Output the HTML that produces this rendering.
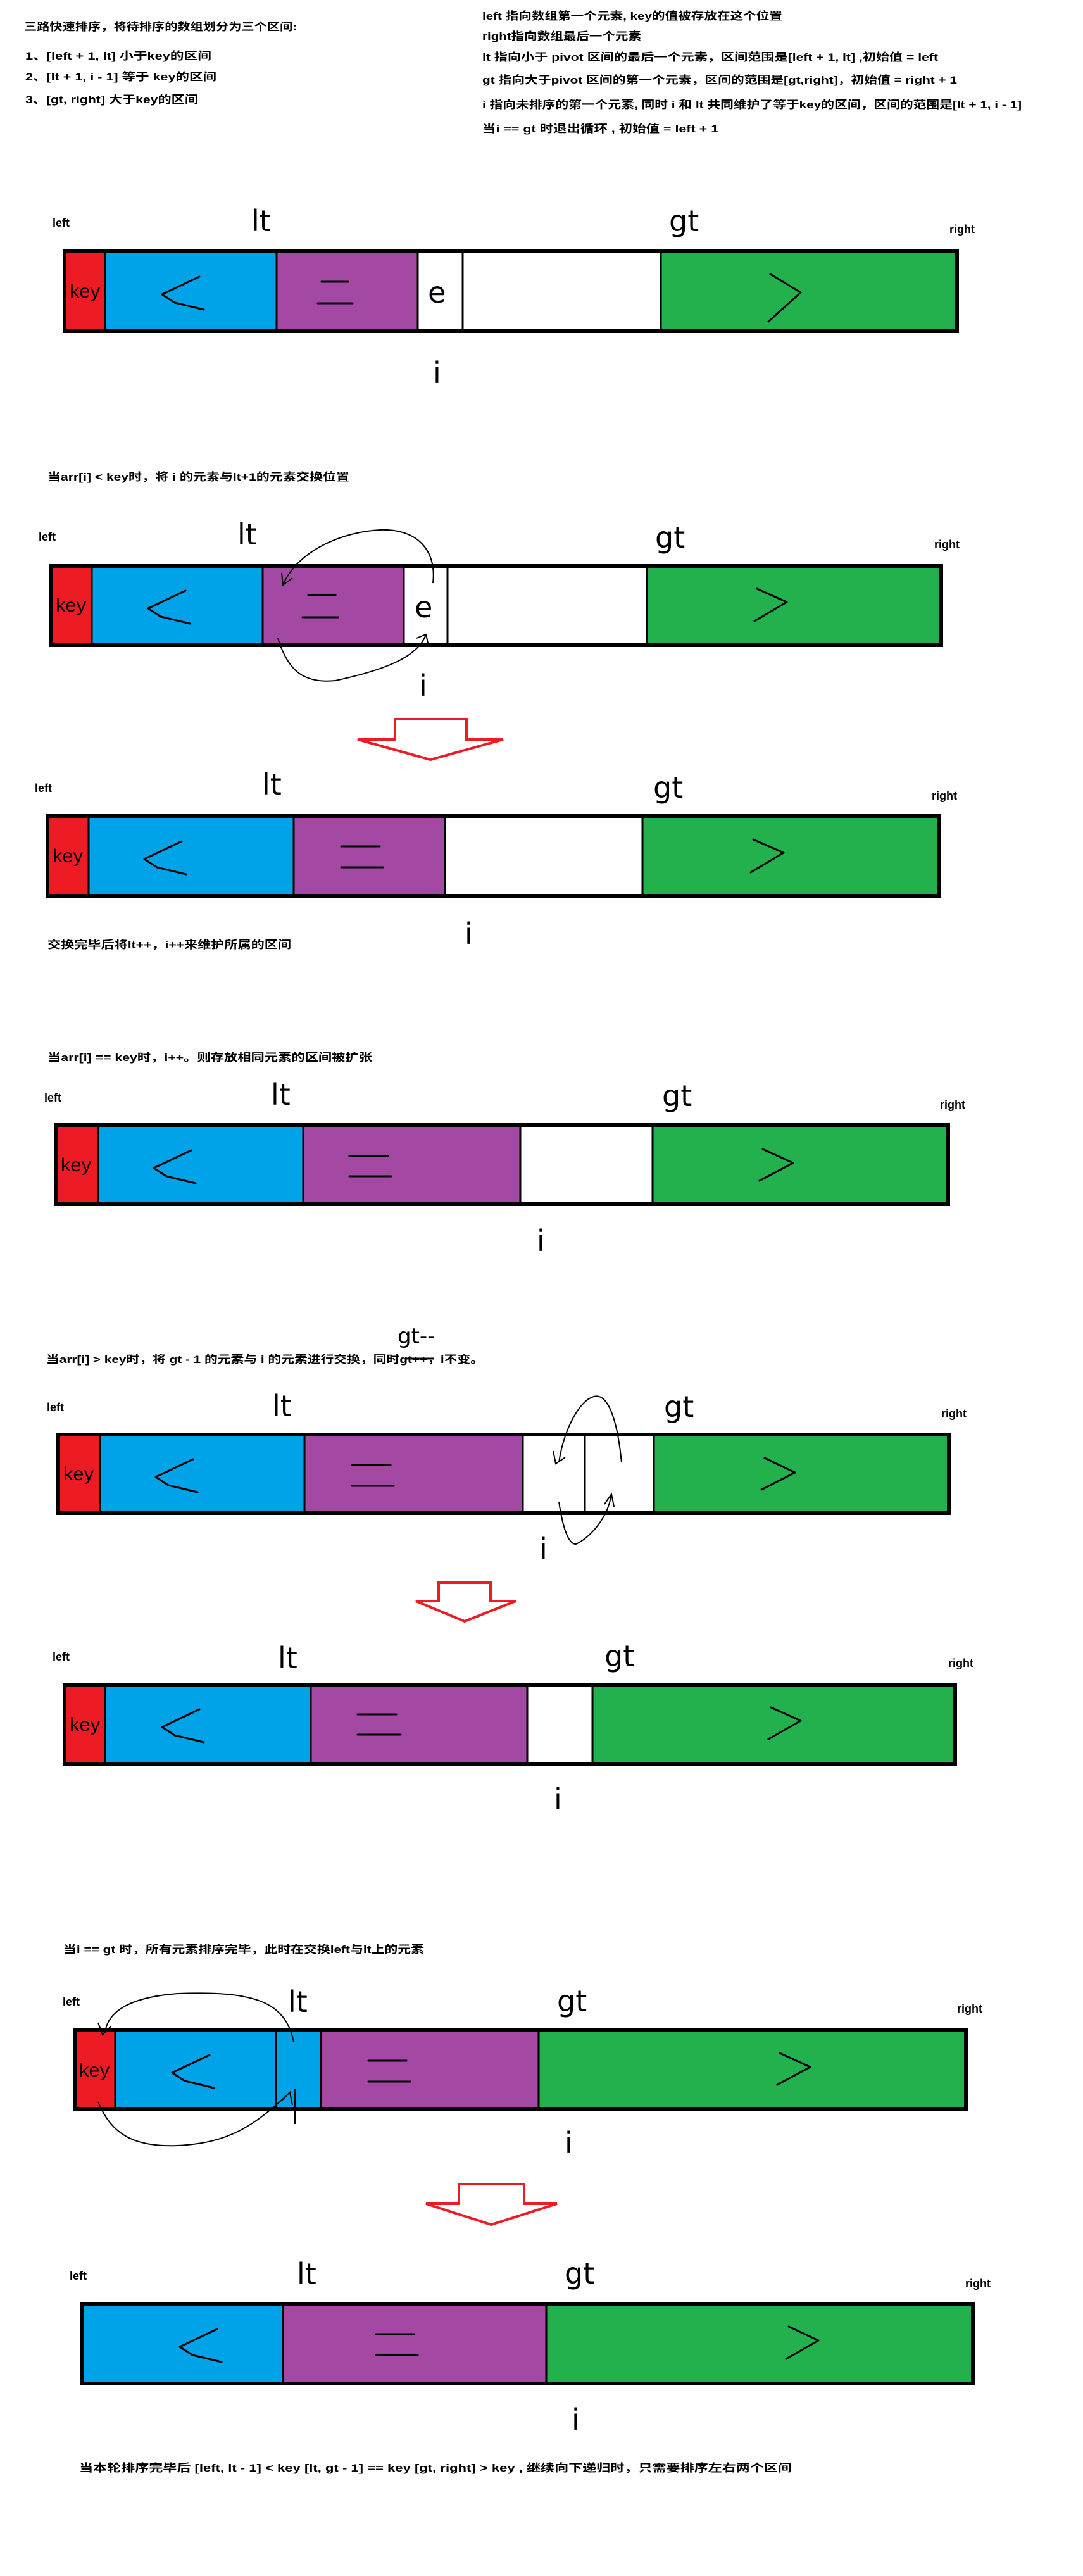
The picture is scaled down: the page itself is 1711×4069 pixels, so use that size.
<!DOCTYPE html>
<html><head><meta charset="utf-8"><style>
html,body{margin:0;padding:0;background:#fff;}
svg{display:block}
.t{font-family:"Liberation Sans","Noto Sans CJK SC",sans-serif;font-size:17px;font-weight:bold;fill:#000}
.lb{font-family:"Liberation Sans",sans-serif;font-size:18px;font-weight:bold;fill:#000}
.hw{font-family:"DejaVu Sans","Liberation Sans",sans-serif;font-size:46px;fill:#000;font-weight:normal}
.k{font-family:"Liberation Sans",sans-serif;font-size:30px;fill:#000}
.o{fill:none;stroke:#000;stroke-width:6}
.d{stroke:#000;stroke-width:3}
.s{fill:none;stroke:#000;stroke-width:3;stroke-linecap:round;stroke-linejoin:round}
.c{fill:none;stroke:#000;stroke-width:2}
.ar{fill:#fff;stroke:#ed1c24;stroke-width:4}
</style></head><body>
<svg width="1711" height="4069" viewBox="0 0 1711 4069" xmlns="http://www.w3.org/2000/svg">
<!-- header texts -->
<text class="t" x="38" y="48" textLength="431" lengthAdjust="spacingAndGlyphs">三路快速排序，将待排序的数组划分为三个区间:</text>
<text class="t" x="40" y="94" textLength="294" lengthAdjust="spacingAndGlyphs">1、[left + 1, lt] 小于key的区间</text>
<text class="t" x="40" y="127" textLength="302" lengthAdjust="spacingAndGlyphs">2、[lt + 1, i - 1] 等于 key的区间</text>
<text class="t" x="40" y="163" textLength="273" lengthAdjust="spacingAndGlyphs">3、[gt, right] 大于key的区间</text>
<text class="t" x="762" y="31" textLength="474" lengthAdjust="spacingAndGlyphs">left 指向数组第一个元素, key的值被存放在这个位置</text>
<text class="t" x="762" y="63" textLength="251" lengthAdjust="spacingAndGlyphs">right指向数组最后一个元素</text>
<text class="t" x="762" y="96" textLength="720" lengthAdjust="spacingAndGlyphs">lt 指向小于 pivot 区间的最后一个元素，区间范围是[left + 1, lt] ,初始值 = left</text>
<text class="t" x="762" y="132" textLength="750" lengthAdjust="spacingAndGlyphs">gt 指向大于pivot 区间的第一个元素，区间的范围是[gt,right]，初始值 = right + 1</text>
<text class="t" x="762" y="171" textLength="852" lengthAdjust="spacingAndGlyphs">i 指向未排序的第一个元素, 同时 i 和 lt 共同维护了等于key的区间，区间的范围是[lt + 1, i - 1]</text>
<text class="t" x="762" y="209" textLength="373" lengthAdjust="spacingAndGlyphs">当i == gt 时退出循环 , 初始值 = left + 1</text>

<!-- D1 -->
<rect x="102" y="396" width="64" height="127" fill="#ed1c24"/>
<rect x="166" y="396" width="271" height="127" fill="#00a2e8"/>
<rect x="437" y="396" width="223" height="127" fill="#a349a4"/>
<rect x="1044" y="396" width="468" height="127" fill="#22b14c"/>
<rect class="o" x="102" y="396" width="1410" height="127"/>
<line class="d" x1="166" y1="396" x2="166" y2="523"/><line class="d" x1="437" y1="396" x2="437" y2="523"/><line class="d" x1="660" y1="396" x2="660" y2="523"/><line class="d" x1="731" y1="396" x2="731" y2="523"/><line class="d" x1="1044" y1="396" x2="1044" y2="523"/>
<text class="k" x="110" y="470" textLength="48" lengthAdjust="spacingAndGlyphs">key</text>
<polyline class="s" points="315,437 256,465 276,478 322,489"/>
<line class="s" x1="508" y1="445" x2="550" y2="445"/><line class="s" x1="502" y1="479" x2="557" y2="479"/>
<text class="hw" x="676" y="478">e</text>
<polyline class="s" points="1217,433 1265,462 1214,508"/>
<text class="lb" x="83" y="358">left</text><text class="hw" x="397" y="365">lt</text><text class="hw" x="1057" y="365">gt</text><text class="lb" x="1500" y="368">right</text><text class="hw" x="684" y="605">i</text>

<!-- D2 -->
<text class="t" x="75" y="759" textLength="477" lengthAdjust="spacingAndGlyphs">当arr[i] &lt; key时，将 i 的元素与lt+1的元素交换位置</text>
<rect x="80" y="894" width="65" height="125" fill="#ed1c24"/>
<rect x="145" y="894" width="270" height="125" fill="#00a2e8"/>
<rect x="415" y="894" width="223" height="125" fill="#a349a4"/>
<rect x="1022" y="894" width="465" height="125" fill="#22b14c"/>
<rect class="o" x="80" y="894" width="1407" height="125"/>
<line class="d" x1="145" y1="894" x2="145" y2="1019"/><line class="d" x1="415" y1="894" x2="415" y2="1019"/><line class="d" x1="638" y1="894" x2="638" y2="1019"/><line class="d" x1="707" y1="894" x2="707" y2="1019"/><line class="d" x1="1022" y1="894" x2="1022" y2="1019"/>
<text class="k" x="88" y="966" textLength="48" lengthAdjust="spacingAndGlyphs">key</text>
<polyline class="s" points="293,933 234,961 254,974 300,985"/>
<line class="s" x1="487" y1="940" x2="530" y2="940"/><line class="s" x1="478" y1="975" x2="534" y2="975"/>
<text class="hw" x="655" y="975">e</text>
<polyline class="s" points="1196,930 1243,951 1192,981"/>
<path class="c" d="M684,921 C690,870 660,835 601,837 C540,840 470,870 447,924"/><path class="c" d="M445,905 L447,924 L462,913"/>
<path class="c" d="M439,1008 C455,1060 480,1080 530,1075 C600,1060 660,1040 673,1002"/><path class="c" d="M658,1008 L673,1002 L677,1020"/>
<text class="lb" x="61" y="854">left</text><text class="hw" x="375" y="860">lt</text><text class="hw" x="1035" y="865">gt</text><text class="lb" x="1476" y="866">right</text><text class="hw" x="662" y="1099">i</text>
<polygon class="ar" points="624,1136 737,1136 737,1168 795,1168 680,1200 565,1168 624,1168"/>

<!-- D3 -->
<rect x="75" y="1289" width="65" height="126" fill="#ed1c24"/>
<rect x="140" y="1289" width="324" height="126" fill="#00a2e8"/>
<rect x="464" y="1289" width="239" height="126" fill="#a349a4"/>
<rect x="1015" y="1289" width="469" height="126" fill="#22b14c"/>
<rect class="o" x="75" y="1289" width="1409" height="126"/>
<line class="d" x1="140" y1="1289" x2="140" y2="1415"/><line class="d" x1="464" y1="1289" x2="464" y2="1415"/><line class="d" x1="703" y1="1289" x2="703" y2="1415"/><line class="d" x1="1015" y1="1289" x2="1015" y2="1415"/>
<text class="k" x="83" y="1362" textLength="48" lengthAdjust="spacingAndGlyphs">key</text>
<polyline class="s" points="287,1329 228,1357 248,1370 294,1381"/>
<line class="s" x1="539" y1="1337" x2="600" y2="1337"/><line class="s" x1="539" y1="1370" x2="605" y2="1370"/>
<polyline class="s" points="1190,1326 1238,1347 1186,1378"/>
<text class="lb" x="55" y="1251">left</text><text class="hw" x="414" y="1255">lt</text><text class="hw" x="1032" y="1260">gt</text><text class="lb" x="1472" y="1263">right</text><text class="hw" x="734" y="1491">i</text>
<text class="t" x="75" y="1498" textLength="385" lengthAdjust="spacingAndGlyphs">交换完毕后将lt++，i++来维护所属的区间</text>

<!-- D4 -->
<text class="t" x="75" y="1676" textLength="513" lengthAdjust="spacingAndGlyphs">当arr[i] == key时，i++。则存放相同元素的区间被扩张</text>
<rect x="88" y="1777" width="67" height="125" fill="#ed1c24"/>
<rect x="155" y="1777" width="324" height="125" fill="#00a2e8"/>
<rect x="479" y="1777" width="343" height="125" fill="#a349a4"/>
<rect x="1031" y="1777" width="467" height="125" fill="#22b14c"/>
<rect class="o" x="88" y="1777" width="1410" height="125"/>
<line class="d" x1="155" y1="1777" x2="155" y2="1902"/><line class="d" x1="479" y1="1777" x2="479" y2="1902"/><line class="d" x1="822" y1="1777" x2="822" y2="1902"/><line class="d" x1="1031" y1="1777" x2="1031" y2="1902"/>
<text class="k" x="96" y="1850" textLength="48" lengthAdjust="spacingAndGlyphs">key</text>
<polyline class="s" points="302,1817 243,1845 263,1858 309,1869"/>
<line class="s" x1="552" y1="1826" x2="613" y2="1826"/><line class="s" x1="552" y1="1858" x2="618" y2="1858"/>
<polyline class="s" points="1205,1815 1253,1837 1200,1865"/>
<text class="lb" x="70" y="1740">left</text><text class="hw" x="428" y="1745">lt</text><text class="hw" x="1046" y="1747">gt</text><text class="lb" x="1485" y="1751">right</text><text class="hw" x="848" y="1976">i</text>

<!-- D5 -->
<text class="hw" x="628" y="2122" style="font-size:34px">gt--</text>
<text class="t" x="73" y="2153" textLength="691" lengthAdjust="spacingAndGlyphs">当arr[i] &gt; key时，将 gt - 1 的元素与 i 的元素进行交换，同时gt++，i不变。</text>
<line x1="640" y1="2146" x2="686" y2="2146" stroke="#000" stroke-width="3"/>
<rect x="92" y="2266" width="66" height="124" fill="#ed1c24"/>
<rect x="158" y="2266" width="323" height="124" fill="#00a2e8"/>
<rect x="481" y="2266" width="345" height="124" fill="#a349a4"/>
<rect x="1033" y="2266" width="466" height="124" fill="#22b14c"/>
<rect class="o" x="92" y="2266" width="1407" height="124"/>
<line class="d" x1="158" y1="2266" x2="158" y2="2390"/><line class="d" x1="481" y1="2266" x2="481" y2="2390"/><line class="d" x1="826" y1="2266" x2="826" y2="2390"/><line class="d" x1="924" y1="2266" x2="924" y2="2390"/><line class="d" x1="1033" y1="2266" x2="1033" y2="2390"/>
<text class="k" x="100" y="2338" textLength="48" lengthAdjust="spacingAndGlyphs">key</text>
<polyline class="s" points="305,2305 246,2333 266,2346 312,2357"/>
<line class="s" x1="556" y1="2314" x2="617" y2="2314"/><line class="s" x1="556" y1="2347" x2="622" y2="2347"/>
<polyline class="s" points="1208,2303 1256,2326 1203,2353"/>
<path class="c" d="M982,2310 C975,2240 960,2200 938,2206 C915,2212 890,2260 883,2310"/><path class="c" d="M874,2292 L878,2312 L893,2302"/>
<path class="c" d="M883,2372 C890,2420 900,2440 910,2439 C930,2430 960,2400 966,2360"/><path class="c" d="M955,2376 L966,2360 L970,2380"/>
<text class="lb" x="74" y="2229">left</text><text class="hw" x="430" y="2237">lt</text><text class="hw" x="1049" y="2238">gt</text><text class="lb" x="1487" y="2239">right</text><text class="hw" x="852" y="2463">i</text>
<polygon class="ar" points="693,2500 775,2500 775,2529 815,2529 734,2561 657,2529 693,2529"/>

<!-- D6 -->
<rect x="102" y="2661" width="64" height="125" fill="#ed1c24"/>
<rect x="166" y="2661" width="325" height="125" fill="#00a2e8"/>
<rect x="491" y="2661" width="342" height="125" fill="#a349a4"/>
<rect x="936" y="2661" width="573" height="125" fill="#22b14c"/>
<rect class="o" x="102" y="2661" width="1407" height="125"/>
<line class="d" x1="166" y1="2661" x2="166" y2="2786"/><line class="d" x1="491" y1="2661" x2="491" y2="2786"/><line class="d" x1="833" y1="2661" x2="833" y2="2786"/><line class="d" x1="936" y1="2661" x2="936" y2="2786"/>
<text class="k" x="110" y="2734" textLength="48" lengthAdjust="spacingAndGlyphs">key</text>
<polyline class="s" points="315,2700 256,2728 276,2741 322,2752"/>
<line class="s" x1="565" y1="2708" x2="626" y2="2708"/><line class="s" x1="565" y1="2740" x2="633" y2="2740"/>
<polyline class="s" points="1218,2697 1265,2718 1214,2747"/>
<text class="lb" x="83" y="2623">left</text><text class="hw" x="439" y="2635">lt</text><text class="hw" x="955" y="2632">gt</text><text class="lb" x="1498" y="2633">right</text><text class="hw" x="875" y="2858">i</text>

<!-- D7 -->
<text class="t" x="100" y="3085" textLength="570" lengthAdjust="spacingAndGlyphs">当i == gt 时，所有元素排序完毕，此时在交换left与lt上的元素</text>
<rect x="118" y="3207" width="64" height="124" fill="#ed1c24"/>
<rect x="182" y="3207" width="325" height="124" fill="#00a2e8"/>
<rect x="507" y="3207" width="344" height="124" fill="#a349a4"/>
<rect x="851" y="3207" width="675" height="124" fill="#22b14c"/>
<rect class="o" x="118" y="3207" width="1408" height="124"/>
<line class="d" x1="182" y1="3207" x2="182" y2="3331"/><line class="d" x1="436" y1="3207" x2="436" y2="3331"/><line class="d" x1="507" y1="3207" x2="507" y2="3331"/><line class="d" x1="851" y1="3207" x2="851" y2="3331"/>
<text class="k" x="125" y="3280" textLength="48" lengthAdjust="spacingAndGlyphs">key</text>
<polyline class="s" points="331,3246 272,3274 292,3287 338,3298"/>
<line class="s" x1="582" y1="3255" x2="642" y2="3255"/><line class="s" x1="582" y1="3288" x2="648" y2="3288"/>
<polyline class="s" points="1232,3243 1280,3265 1228,3293"/>
<path class="c" d="M464,3225 C450,3160 400,3145 281,3149 C200,3155 170,3180 166,3210"/><path class="c" d="M155,3195 L162,3214 L176,3200"/>
<path class="c" d="M155,3320 C175,3370 210,3392 281,3389 C360,3385 400,3360 458,3305"/><path class="c" d="M445,3318 L458,3305 L462,3325"/>
<line class="c" x1="466" y1="3300" x2="466" y2="3355"/>
<text class="lb" x="99" y="3168">left</text><text class="hw" x="455" y="3178">lt</text><text class="hw" x="880" y="3177">gt</text><text class="lb" x="1512" y="3179">right</text><text class="hw" x="892" y="3401">i</text>
<polygon class="ar" points="725,3450 828,3450 828,3481 880,3481 776,3514 673,3481 725,3481"/>

<!-- D8 -->
<rect x="129" y="3639" width="318" height="126" fill="#00a2e8"/>
<rect x="447" y="3639" width="416" height="126" fill="#a349a4"/>
<rect x="863" y="3639" width="674" height="126" fill="#22b14c"/>
<rect class="o" x="129" y="3639" width="1408" height="126"/>
<line class="d" x1="447" y1="3639" x2="447" y2="3765"/><line class="d" x1="863" y1="3639" x2="863" y2="3765"/>
<polyline class="s" points="343,3679 284,3707 304,3720 350,3731"/>
<line class="s" x1="594" y1="3687" x2="654" y2="3687"/><line class="s" x1="594" y1="3720" x2="660" y2="3720"/>
<polyline class="s" points="1246,3675 1293,3697 1242,3726"/>
<text class="lb" x="110" y="3601">left</text><text class="hw" x="469" y="3608">lt</text><text class="hw" x="892" y="3607">gt</text><text class="lb" x="1525" y="3613">right</text><text class="hw" x="903" y="3838">i</text>
<text class="t" x="125" y="3904" textLength="1126" lengthAdjust="spacingAndGlyphs">当本轮排序完毕后 [left, lt - 1] &lt; key   [lt, gt - 1] == key   [gt, right] &gt; key ,  继续向下递归时，只需要排序左右两个区间</text>
</svg>
</body></html>
